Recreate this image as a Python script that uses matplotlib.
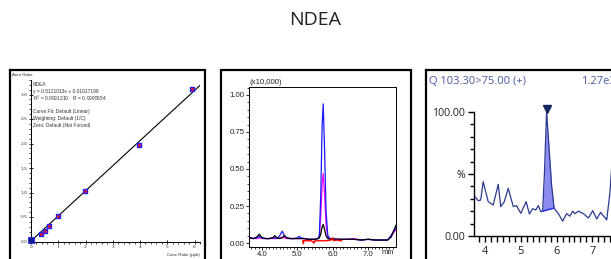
"""NDEA calibration curve, overlaid chromatograms and Q-ion trace."""

import matplotlib.pyplot as plt
from matplotlib.patches import Rectangle
from matplotlib.ticker import MultipleLocator

W, H = 611, 259

# calibration curve
cal_conc = [0.0, 0.36, 0.51, 0.67, 1.0, 1.99, 3.95, 5.92]
cal_ratio = [0.03, 0.16, 0.22, 0.32, 0.52, 1.04, 1.97, 3.11]
slope, intercept = 0.5121013, 0.01017199
cal_yticks = [0.0, 0.5, 1.0, 1.5, 2.0, 2.5, 3.0]
cal_text = [
    "NDEA",
    "y = 0.5121013x + 0.01017199",
    "R$^2$ = 0.9991310    R = 0.9995654",
    "",
    "Curve Fit: Default (Linear)",
    "Weighting: Default (1/C)",
    "Zero: Default (Not Forced)",
]

# overlaid chromatograms (x10,000)
t_over = [3.63, 3.75, 3.85, 3.92, 4.0, 4.1, 4.2, 4.3, 4.36, 4.42, 4.5, 4.57, 4.63,
          4.7, 4.8, 4.9, 5.0, 5.05, 5.1, 5.2, 5.3, 5.4, 5.5, 5.58, 5.62, 5.66, 5.70,
          5.73, 5.77, 5.81, 5.86, 5.92, 6.0, 6.2, 6.4, 6.6, 6.8, 7.0, 7.2, 7.4, 7.55,
          7.65, 7.72, 7.79]
blue_trace = [0.04, 0.03, 0.035, 0.045, 0.035, 0.03, 0.03, 0.035, 0.035, 0.03, 0.05,
              0.08, 0.05, 0.035, 0.03, 0.03, 0.035, 0.045, 0.035, 0.03, 0.025, 0.025,
              0.025, 0.03, 0.05, 0.32, 0.80, 0.94, 0.62, 0.22, 0.05, 0.03, 0.03, 0.025,
              0.025, 0.025, 0.02, 0.025, 0.02, 0.02, 0.02, 0.05, 0.08, 0.1]
magenta_trace = [0.035, 0.03, 0.03, 0.035, 0.03, 0.03, 0.03, 0.03, 0.03, 0.03, 0.035,
                 0.04, 0.035, 0.03, 0.03, 0.03, 0.03, 0.03, 0.03, 0.03, 0.025, 0.025,
                 0.025, 0.03, 0.04, 0.18, 0.40, 0.47, 0.32, 0.12, 0.04, 0.03, 0.025,
                 0.025, 0.025, 0.03, 0.02, 0.025, 0.02, 0.02, 0.02, 0.04, 0.07, 0.09]
black_trace = [0.035, 0.03, 0.04, 0.06, 0.035, 0.03, 0.03, 0.035, 0.05, 0.035, 0.03,
               0.035, 0.05, 0.035, 0.03, 0.03, 0.03, 0.03, 0.03, 0.03, 0.025, 0.025,
               0.025, 0.03, 0.035, 0.06, 0.11, 0.125, 0.09, 0.05, 0.03, 0.025, 0.025,
               0.025, 0.025, 0.025, 0.02, 0.025, 0.02, 0.02, 0.02, 0.04, 0.08, 0.12]
t_red = [5.15, 5.17, 5.19, 5.25, 5.4, 5.45, 5.47, 5.49, 5.6, 5.8, 5.95, 6.0, 6.02,
         6.1, 6.25]
red_trace = [0.015, -0.005, 0.02, 0.015, 0.015, 0.005, 0.0, 0.015, 0.015, 0.015,
             0.02, 0.035, 0.015, 0.02, 0.015]

# Q 103.30>75.00 trace (%)
t_q = [3.72, 3.81, 3.88, 3.95, 4.09, 4.23, 4.37, 4.44, 4.54, 4.65, 4.79, 4.88, 5.0,
       5.15, 5.24, 5.33, 5.42, 5.49, 5.56, 5.61, 5.66, 5.72, 5.78, 5.86, 5.93, 6.05,
       6.17, 6.28, 6.37, 6.45, 6.51, 6.61, 6.75, 6.89, 7.01, 7.12, 7.23, 7.4, 7.49,
       7.55]
q_pct = [31.7, 28.5, 29, 43.8, 27.7, 25, 41.7, 23.7, 27.7, 38.4, 23.7, 24.5, 18.3,
         27.7, 17.7, 22, 21, 24.5, 19.6, 20, 50, 100, 75, 41, 22.5, 18, 12, 18, 16,
         20, 18, 20, 18, 14.5, 20.4, 13.7, 19, 13, 35, 60]
peak_start_idx, peak_apex_idx, peak_end_idx = 19, 21, 24   # 5.61 .. 5.93 min


def px_axes(fig, x0, y0, x1, y1):
    return fig.add_axes([x0 / W, 1 - y1 / H, (x1 - x0) / W, (y1 - y0) / H])


def frame(fig, x0, x1, y0=70, y1=300):
    fig.patches.append(Rectangle((x0 / W, 1 - y1 / H), (x1 - x0) / W, (y1 - y0) / H,
                                 transform=fig.transFigure, fill=False,
                                 edgecolor="black", linewidth=1.6))


fig = plt.figure(figsize=(W / 100, H / 100), dpi=100)
fig.text(315 / W, 1 - 20 / H, "NDEA", ha="center", va="center", fontsize=14,
         family="Open Sans", color="#222222")
frame(fig, 10, 205)
frame(fig, 221, 411)
frame(fig, 426, 660)

# --- panel 1: calibration
small = dict(family="Liberation Sans", fontsize=3.2, color="#333333")
ax1 = px_axes(fig, 31, 79.8, 200, 241.5)
xs = [0, 6.2]
ax1.plot(xs, [slope * x + intercept for x in xs], color="black", lw=0.8, zorder=2)
ax1.scatter(cal_conc[1:], cal_ratio[1:], marker="s", s=10, facecolor="#ee1111",
            edgecolor="#2222ff", linewidth=1.0, zorder=3, clip_on=False)
ax1.scatter(cal_conc[:1], cal_ratio[:1], marker="s", s=14, facecolor="#10208a",
            edgecolor="#2222ff", linewidth=0.6, zorder=4, clip_on=False)
ax1.spines[["top", "right"]].set_visible(False)
for s in ["left", "bottom"]:
    ax1.spines[s].set_linewidth(0.7)
ax1.set_xticks(range(7))
ax1.xaxis.set_minor_locator(MultipleLocator(0.2))
ax1.set_yticks(cal_yticks)
ax1.set_yticklabels([f"{v:.1f}" for v in cal_yticks])
ax1.yaxis.set_minor_locator(MultipleLocator(0.1))
ax1.set_xlim(0, 6.2)
ax1.set_ylim(0, 3.3)
ax1.tick_params(which="major", direction="inout", length=3, width=0.6, pad=1,
                labelsize=3.2, labelcolor="#333333")
ax1.tick_params(which="minor", direction="out", length=1.5, width=0.5)
ax1.patch.set_alpha(0)
fig.text(12 / W, 1 - 75 / H, "Area Ratio", ha="left", va="center", **small)
fig.text(200 / W, 1 - 255 / H, "Conc.Ratio (ppb)", ha="right", va="center", **small)
for i, line in enumerate(cal_text):
    ax1.text(2 / 169, 1 - (4.5 + i * 6.8) / 161.7, line, transform=ax1.transAxes,
             ha="left", va="center", family="Liberation Sans", fontsize=3.5,
             color="#333333")

# --- panel 2: overlay
ax2 = px_axes(fig, 249, 87, 396, 247)
ax2.plot(t_over, blue_trace, color="#1a1aff", lw=0.9, zorder=3)
ax2.plot(t_over, magenta_trace, color="#ff00ff", lw=0.9, zorder=2)
ax2.plot(t_over, black_trace, color="black", lw=0.9, zorder=4)
ax2.plot(t_red, red_trace, color="#ff0000", lw=1.0, zorder=5)
ax2.set_xlim(3.63, 7.79)
ax2.set_ylim(-0.027, 1.054)
ax2.set_xticks([4, 5, 6, 7])
ax2.set_xticklabels(["4.0", "5.0", "6.0", "7.0"])
ax2.set_yticks([0, 0.25, 0.5, 0.75, 1.0])
ax2.set_yticklabels(["0.00", "0.25", "0.50", "0.75", "1.00"])
ax2.xaxis.set_minor_locator(MultipleLocator(0.1))
ax2.yaxis.set_minor_locator(MultipleLocator(0.05))
for s in ax2.spines.values():
    s.set_linewidth(0.7)
ax2.tick_params(which="major", direction="out", length=2.2, width=0.6, pad=0.8,
                labelsize=5.6, labelcolor="#222222")
ax2.tick_params(which="minor", direction="out", length=1.3, width=0.5)
for lab in ax2.get_xticklabels() + ax2.get_yticklabels():
    lab.set_family("Liberation Sans")
fig.text(249 / W, 1 - 82.5 / H, "(x10,000)", ha="left", va="center",
         family="Liberation Sans", fontsize=5.6, color="#222222")
fig.text(388 / W, 1 - 253 / H, "min", ha="center", va="center",
         family="Liberation Sans", fontsize=5.6, color="#222222")

# --- panel 3: Q ion trace
ax3 = px_axes(fig, 474, 112, 640, 236)
navy = "#2b3a8f"
ax3.plot(t_q, q_pct, color=navy, lw=0.9, zorder=3)
pk_t = t_q[peak_start_idx:peak_end_idx + 1]
pk_y = q_pct[peak_start_idx:peak_end_idx + 1]
t0, t1 = pk_t[0], pk_t[-1]
y0, y1 = pk_y[0], pk_y[-1]
base = [y0 + (y1 - y0) * (t - t0) / (t1 - t0) for t in pk_t]
ax3.fill_between(pk_t, base, pk_y, color="#8c8cf0", lw=0, zorder=2)
ax3.plot([t0, t1], [y0, y1], color="#1f2fee", lw=1.0, zorder=4)
ax3.plot([t_q[peak_apex_idx]], [102.4], marker="v", markersize=5.5,
         color="#14245e", clip_on=False, zorder=5)
ax3.set_xlim(3.693, 8.33)
ax3.set_ylim(0, 100)
ax3.spines[["top", "right"]].set_visible(False)
for s in ["left", "bottom"]:
    ax3.spines[s].set_linewidth(1.0)
ax3.set_yticks([0, 50, 100])
ax3.set_yticklabels(["0.00", "%", "100.00"])
ax3.yaxis.set_minor_locator(MultipleLocator(10))
ax3.set_xticks([4, 5, 6, 7])
ax3.set_xticklabels(["4", "5", "6", "7"])
ax3.xaxis.set_minor_locator(MultipleLocator(1 / 6))
ax3.tick_params(axis="y", which="major", direction="out", length=4.5, width=1.0,
                pad=2, labelsize=7.6, labelcolor="#222222")
ax3.tick_params(axis="y", which="minor", direction="out", length=3, width=1.0)
ax3.tick_params(axis="x", which="both", direction="out", length=4, width=1.0,
                pad=3.5, labelsize=8, labelcolor="#222222")
for lab in ax3.get_xticklabels() + ax3.get_yticklabels():
    lab.set_family("Open Sans")
fig.text(429 / W, 1 - 81 / H, "Q 103.30>75.00 (+)", ha="left", va="center",
         family="Open Sans", fontsize=8, color="#4a5aa5")
fig.text(581 / W, 1 - 81 / H, "1.27e3", ha="left", va="center",
         family="Open Sans", fontsize=8, color="#4a5aa5")

fig.savefig("out.png", dpi=100)
